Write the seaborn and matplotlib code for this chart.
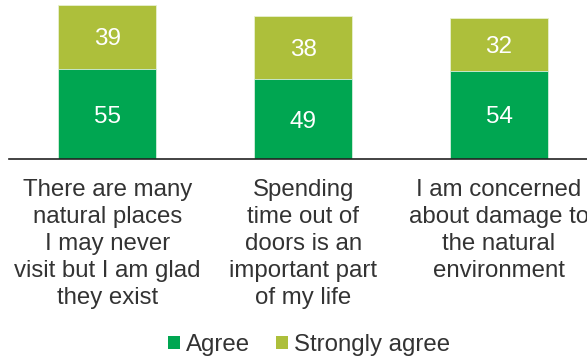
import matplotlib
matplotlib.use("Agg")
import matplotlib.pyplot as plt
from matplotlib.patches import Patch
import seaborn as sns
import pandas as pd

categories = [
    "There are many\nnatural places\nI may never\nvisit but I am glad\nthey exist",
    "Spending\ntime out of\ndoors is an\nimportant part\nof my life",
    "I am concerned\nabout damage to\nthe natural\nenvironment",
]
agree = [55, 49, 54]
strongly_agree = [39, 38, 32]
series_names = ["Agree", "Strongly agree"]
colors = ["#00A651", "#ADBF3B"]

sns.set_theme(style="white")
plt.rcParams["font.family"] = ["Liberation Sans", "DejaVu Sans"]

df = pd.DataFrame({
    "category": categories,
    "agree": agree,
    "strongly": strongly_agree,
})
df["total"] = df["agree"] + df["strongly"]

fig = plt.figure(figsize=(5.87, 3.59), dpi=100)
ax = fig.add_axes([9.3 / 587, 1 - 159.3 / 359, (597 - 9.3) / 587, 159.3 / 359])

# stacked bars: full height in the upper colour, lower segment drawn over it
sns.barplot(data=df, x="category", y="total", color=colors[1], saturation=1,
            width=0.5, edgecolor="#e8f0d0", linewidth=0.6, ax=ax)
sns.barplot(data=df, x="category", y="agree", color=colors[0], saturation=1,
            width=0.5, edgecolor="#d8f0e0", linewidth=0.6, ax=ax)

for i, (a, s) in enumerate(zip(agree, strongly_agree)):
    ax.text(i, a / 2, str(a), ha="center", va="center_baseline", color="white", fontsize=17.5)
    ax.text(i, a + s / 2, str(s), ha="center", va="center_baseline", color="white", fontsize=17.5)

ax.set_xlim(-0.5, 2.5)
ax.set_ylim(0, 97)
ax.set_xlabel("")
ax.set_ylabel("")
ax.set_yticks([])
ax.set_xticks(range(len(categories)))
ax.set_xticklabels(categories, fontsize=17.3, color="#333333", linespacing=1.3)
ax.tick_params(axis="x", length=0, pad=14)
for side in ["top", "right", "left"]:
    ax.spines[side].set_visible(False)
ax.spines["bottom"].set_color("#222222")
ax.spines["bottom"].set_linewidth(1.2)

handles = [Patch(facecolor=c, edgecolor="none") for c in colors]
fig.legend(handles, series_names, loc="center", bbox_to_anchor=(309 / 587, 1 - 345 / 359),
           ncol=2, frameon=False, fontsize=17.3, handlelength=0.5, handleheight=0.5,
           handletextpad=0.25, columnspacing=1.1, labelcolor="#333333")

fig.savefig("out.png", dpi=100)
